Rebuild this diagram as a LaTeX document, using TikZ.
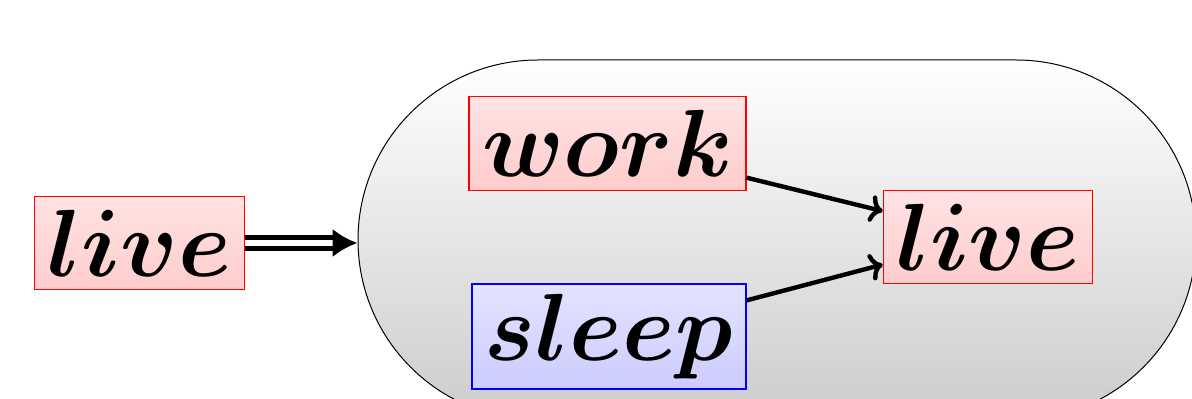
\documentclass[tikz,border=0pt]{standalone}
\usepackage{graphicx}
\usetikzlibrary{arrows.meta}
% large bold italic word, enlarged beyond the largest preset size
\newcommand\bigword[1]{\scalebox{1.92}{\Huge\boldmath$#1$}}
\begin{document}
\begin{tikzpicture}[x=0.5pt,y=-0.5pt,
  wordbox/.style={line width=0.6pt, inner xsep=6.5pt, inner ysep=6.75pt},
  redbox/.style={wordbox, draw=red, top color=red!11, bottom color=red!20},
  bluebox/.style={wordbox, draw=blue, top color=blue!11, bottom color=blue!20,
    inner ysep=5pt},
  flow/.style={line width=2.2pt, ->},
  implies/.style={line width=2.6pt, double, double distance=2.8pt,
    -{Latex[length=12.5pt,width=14.5pt]}}]
\useasboundingbox (0,0) rectangle (1192,399);
% container holding the inner relation
\node[draw, line width=0.5pt, rounded corners=90pt,
      top color=white, bottom color=black!20,
      minimum width=419pt, minimum height=180pt, inner sep=0pt]
  (group) at (777,240) {};
\node[redbox] (outer) at (139.5,243) {\bigword{live}};
\node[redbox] (work) at (607.5,143.5) {\bigword{work}};
\node[bluebox] (sleep) at (609,336.5) {\bigword{sleep}};
\node[redbox] (live) at (988,237) {\bigword{live}};
\draw[flow] (work) -- (live);
\draw[flow] (sleep) -- (live);
\draw[implies] (outer.east) -- (group.west |- outer.east);
\end{tikzpicture}
\end{document}
